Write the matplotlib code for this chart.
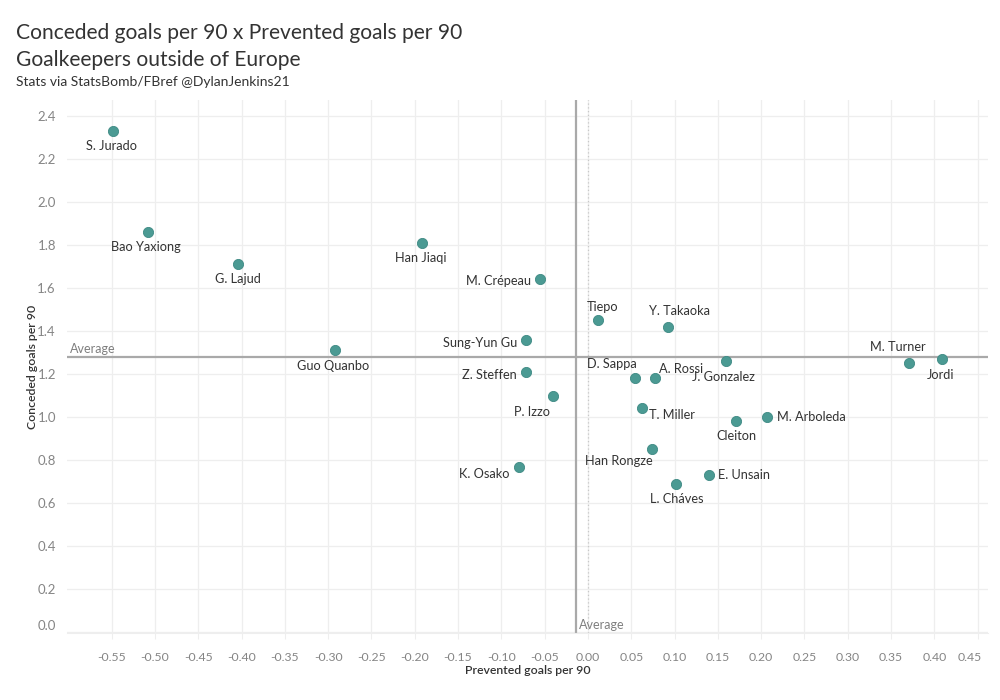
import matplotlib
matplotlib.use("Agg")
import matplotlib.pyplot as plt
import matplotlib.transforms as mtransforms
import numpy as np

plt.rcParams['font.family'] = ['Lato', 'DejaVu Sans']

# ---- data ----
players = ["S. Jurado", "Bao Yaxiong", "G. Lajud", "Guo Quanbo", "Han Jiaqi",
           "M. Crépeau", "Sung-Yun Gu", "Z. Steffen", "P. Izzo", "K. Osako",
           "Tiepo", "Y. Takaoka", "D. Sappa", "A. Rossi", "J. Gonzalez",
           "T. Miller", "Han Rongze", "L. Cháves", "E. Unsain", "Cleiton",
           "M. Arboleda", "M. Turner", "Jordi"]
prevented = [-0.549, -0.508, -0.404, -0.292, -0.192,
             -0.055, -0.072, -0.072, -0.040, -0.080,
             0.011, 0.092, 0.054, 0.077, 0.159,
             0.062, 0.074, 0.102, 0.140, 0.171,
             0.207, 0.371, 0.409]
conceded = [2.33, 1.86, 1.71, 1.31, 1.81,
            1.64, 1.36, 1.21, 1.10, 0.77,
            1.45, 1.42, 1.18, 1.18, 1.26,
            1.04, 0.85, 0.69, 0.73, 0.98,
            1.00, 1.25, 1.27]
avg_prevented = -0.014
avg_conceded = 1.281
x_ticks = [-0.55, -0.50, -0.45, -0.40, -0.35, -0.30, -0.25, -0.20, -0.15, -0.10,
           -0.05, 0.00, 0.05, 0.10, 0.15, 0.20, 0.25, 0.30, 0.35, 0.40, 0.45]
y_ticks = [0.0, 0.2, 0.4, 0.6, 0.8, 1.0, 1.2, 1.4, 1.6, 1.8, 2.0, 2.2, 2.4]

# label placement (pixel offsets, alignment) - styling only
label_pos = {
    "S. Jurado": (-1, -15, "center"),
    "Bao Yaxiong": (-2, -15, "center"),
    "G. Lajud": (0, -15, "center"),
    "Guo Quanbo": (-2, -16, "center"),
    "Han Jiaqi": (-1, -15, "center"),
    "M. Crépeau": (-9, -2, "right"),
    "Sung-Yun Gu": (-8, -3, "right"),
    "Z. Steffen": (-9, -3, "right"),
    "P. Izzo": (-21, -16, "center"),
    "K. Osako": (-9, -7, "right"),
    "Tiepo": (5, 13, "center"),
    "Y. Takaoka": (12, 16, "center"),
    "D. Sappa": (-23, 14, "center"),
    "A. Rossi": (26, 9, "center"),
    "J. Gonzalez": (-2, -16, "center"),
    "T. Miller": (7, -7, "left"),
    "Han Rongze": (-33, -12, "center"),
    "L. Cháves": (0, -15, "center"),
    "E. Unsain": (9, 0, "left"),
    "Cleiton": (0, -15, "center"),
    "M. Arboleda": (10, 0, "left"),
    "M. Turner": (-11, 16, "center"),
    "Jordi": (-2, -16, "center"),
}

fig = plt.figure(figsize=(10, 7), dpi=100)
ax = fig.add_axes([0.067, 0.0957, 0.921, 0.7614])

ax.set_xlim(-0.6016, 0.4619)
ax.set_ylim(-0.003, 2.473)

grid_c = "#eeeeee"
ax.set_xticks(x_ticks)
ax.set_yticks(y_ticks)
ax.set_xticklabels([f"{v:.2f}" for v in x_ticks])
ax.set_yticklabels([f"{v:.1f}" for v in y_ticks])
ax.grid(True, color=grid_c, linewidth=0.9, zorder=0)
ax.set_axisbelow(True)
for s in ["top", "right", "left"]:
    ax.spines[s].set_visible(False)
ax.spines["bottom"].set_color(grid_c)
ax.tick_params(axis="y", length=0, pad=8, labelsize=9.5, labelcolor="#858585")
ax.tick_params(axis="x", length=4, color=grid_c, pad=10, labelsize=8.8, labelcolor="#858585")

# zero line (dotted) and averages
ax.axvline(0, color="#c8c8c8", linestyle=(0, (1, 2)), linewidth=0.9, zorder=1)
ax.axvline(avg_prevented, color="#a9a9a9", linewidth=1.6, zorder=2)
ax.axhline(avg_conceded, color="#a9a9a9", linewidth=1.6, zorder=2)
ax.annotate("Average", xy=(ax.get_xlim()[0], avg_conceded), xytext=(3, 2),
            textcoords="offset pixels", ha="left", va="bottom",
            fontsize=9, color="#7f7f7f")
ax.annotate("Average", xy=(avg_prevented, ax.get_ylim()[0]), xytext=(3, 2),
            textcoords="offset pixels", ha="left", va="bottom",
            fontsize=9, color="#7f7f7f")

ax.scatter(prevented, conceded, s=54, color="#4b9a93", edgecolor="#3f8a84",
           linewidth=0.6, zorder=4)

for name, xv, yv in zip(players, prevented, conceded):
    dx, dy, ha = label_pos[name]
    ax.annotate(name, xy=(xv, yv), xytext=(dx, dy), textcoords="offset pixels",
                ha=ha, va="center", fontsize=9.2, color="#333333", zorder=5)

ax.set_xlabel("Prevented goals per 90", fontsize=8.8, color="#333333",
              fontweight="semibold", labelpad=1)
ax.set_ylabel("Conceded goals per 90", fontsize=8.8, color="#333333",
              fontweight="semibold", labelpad=12)

# edge tick label adjustment (Tableau keeps them inside)
fig.canvas.draw()
xl = ax.get_xticklabels()
xl[-1].set_transform(xl[-1].get_transform() +
                     mtransforms.ScaledTranslation(-8 / 100, 0, fig.dpi_scale_trans))
yl = ax.get_yticklabels()
yl[0].set_va("bottom")
ax.yaxis.set_label_coords(-0.032, 0.5)

fig.text(0.016, 1 - 33 / 700, "Conceded goals per 90 x Prevented goals per 90",
         fontsize=15.1, color="#333333", ha="left", va="center")
fig.text(0.016, 1 - 60 / 700, "Goalkeepers outside of Europe",
         fontsize=15.1, color="#333333", ha="left", va="center")
fig.text(0.016, 1 - 82 / 700, "Stats via StatsBomb/FBref @DylanJenkins21",
         fontsize=10, color="#333333", ha="left", va="center")

fig.savefig("out.png", dpi=100)
